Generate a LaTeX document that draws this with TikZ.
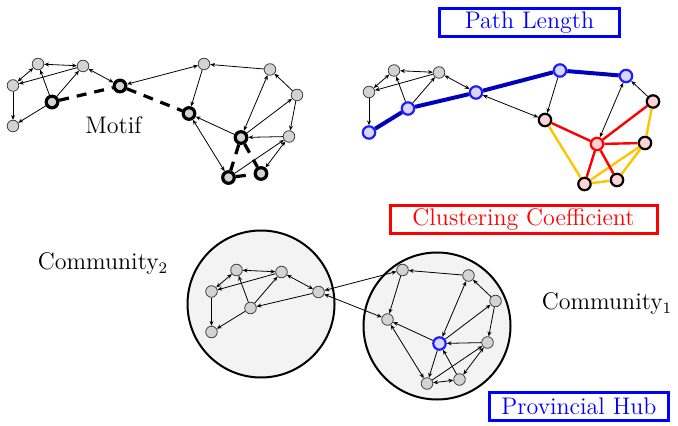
\documentclass[tikz,border=0pt]{standalone}
\usepackage{tikz}
\usetikzlibrary{arrows.meta}
\definecolor{nodegray}{HTML}{D3D3D3}
\definecolor{commfill}{HTML}{F3F3F3}
\definecolor{pathblue}{HTML}{0000BE}
\definecolor{hubblue}{HTML}{1E1EFF}
\definecolor{bluefill}{HTML}{D7D7FF}
\definecolor{pinkfill}{HTML}{FFD3D3}
\definecolor{triyellow}{HTML}{FFC400}

% the same small network is drawn three times
\newcommand{\netnodes}{%
  \foreach \n/\x/\y in {A/38/64, B/83/66, C/13/85.5, D/52/102, E/13/126, F/120/86,
      G/204/64, H/270/69.5, I/297/95, J/189/113.5, K/241/137.5, L/289/136.5,
      M/228.5/177.5, N/261/173.5}
    \node[nd, st\n/.try] (\n) at (\x,\y) {};}
% ek: always thin, ep: replaced in path copy, em: replaced in motif copy, eb: both
\newcommand{\netedges}{%
  \foreach \p/\q/\tip/\grp in {A/B/bi/ek, C/A/bi/ek, B/C/fw/ek, C/E/fw/ek, D/E/fw/ep,
      D/A/fw/ek, D/B/fw/ek, F/B/bi/ek, F/G/bi/ep, F/D/fw/eb, F/J/bi/em, H/G/fw/ep,
      G/J/fw/ek, I/H/fw/ek, I/L/fw/ep, K/J/fw/ep, K/H/bi/ek, K/I/fw/ep, L/K/fw/ep,
      K/M/fw/eb, N/K/fw/eb, M/L/fw/ep, N/L/bi/ep, M/N/bi/eb, J/M/bi/ep}
    \draw[ln, \tip, \grp] (\p) -- (\q);}

\begin{document}
\begin{tikzpicture}[
  x=0.5pt, y=-0.5pt, font=\large,
  nd/.style={circle, inner sep=0pt, minimum size=5.8pt, draw=black!75, fill=nodegray, line width=0.4pt},
  motif/.style={draw=black, line width=1.6pt},
  pathnd/.style={draw=hubblue, fill=bluefill, line width=1.1pt, minimum size=6.2pt},
  clnd/.style={draw=black, fill=pinkfill, line width=1.1pt, minimum size=6.2pt},
  ln/.style={line width=0.4pt, draw=black},
  fw/.style={-{Stealth[length=2.4pt,width=2pt]}},
  bi/.style={{Stealth[length=2.4pt,width=2pt]}-{Stealth[length=2.4pt,width=2pt]}},
  ek/.style={}, ep/.style={}, em/.style={}, eb/.style={},
  motifln/.style={line width=1.6pt, dash pattern=on 5pt off 4pt},
  pathln/.style={line width=2pt, draw=pathblue},
  redln/.style={line width=1.2pt, draw=red},
  yelln/.style={line width=1.2pt, draw=triyellow},
  comm/.style={circle, draw=black, line width=1pt, fill=commfill, minimum size=73.5pt, inner sep=0pt},
  tagbox/.style={draw, line width=1.5pt, inner sep=0pt, minimum height=14pt},
]
\useasboundingbox (0,0) rectangle (678,426);

% motif copy
\begin{scope}[name prefix=mo-, em/.style={draw=none}, eb/.style={draw=none},
    stD/.style=motif, stF/.style=motif, stJ/.style=motif,
    stK/.style=motif, stM/.style=motif, stN/.style=motif]
  \netnodes
  \netedges
  \foreach \p/\q in {D/F, F/J, K/M, K/N, M/N}
    \draw[motifln] (\p) -- (\q);
\end{scope}
\node (motiflbl) at (113.5,125.5) {Motif};

% path length / clustering copy
\begin{scope}[shift={(356,6.5)}, name prefix=pc-, ep/.style={draw=none}, eb/.style={draw=none},
    stE/.style=pathnd, stD/.style=pathnd, stF/.style=pathnd, stG/.style=pathnd, stH/.style=pathnd,
    stI/.style=clnd, stJ/.style=clnd, stL/.style=clnd, stM/.style=clnd, stN/.style=clnd,
    stK/.style={clnd, draw=red}]
  \netnodes
  \netedges
  \draw[pathln] (E) -- (D) -- (F) -- (G) -- (H);
  \foreach \p/\q in {J/M, M/N, N/L, M/L, L/I}
    \draw[yelln] (\p) -- (\q);
  \foreach \q in {J, I, L, M, N}
    \draw[redln] (K) -- (\q);
\end{scope}
\node[tagbox, draw=blue, text=blue, minimum width=90pt] (pathlbl) at (529.5,22.5) {Path Length};
\node[tagbox, draw=red, text=red, minimum width=133.5pt] (cluslbl) at (523.5,219.5) {Clustering Coefficient};

% community copy
\node[comm] (comm2) at (261,304) {};
\node[comm] (comm1) at (437,326) {};
\begin{scope}[shift={(198.5,206)}, name prefix=cm-, stK/.style=pathnd]
  \netnodes
  \netedges
\end{scope}
\node (comm2lbl) at (103,264) {Community$_2$};
\node (comm1lbl) at (607,304) {Community$_1$};
\node[tagbox, draw=blue, text=blue, minimum width=89.5pt] (hublbl) at (579,406) {Provincial Hub};
\end{tikzpicture}
\end{document}
